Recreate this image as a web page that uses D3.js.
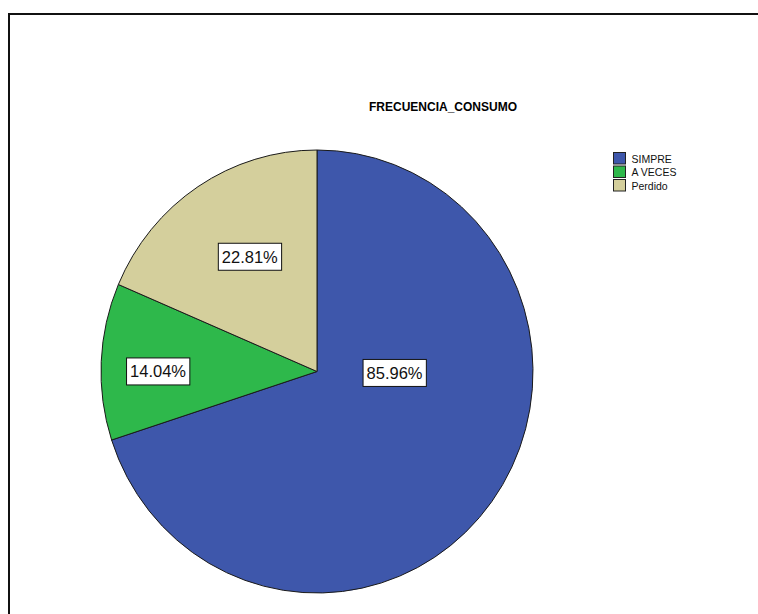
<!DOCTYPE html>
<html>
<head>
<meta charset="utf-8">
<script src="https://cdn.jsdelivr.net/npm/d3@7"></script>
<style>
  html, body { margin: 0; padding: 0; background: #fff; }
  svg { display: block; }
</style>
</head>
<body>
<svg id="chart" width="758" height="614"></svg>
<script>
// Frequency of consumption, percentage per answer
const categories = ["SIMPRE", "A VECES", "Perdido"];
const percentages = [85.96, 14.04, 22.81];
const title = "FRECUENCIA_CONSUMO";
const colors = ["#3e57ab", "#2eb84b", "#d4cf9c"];

const svg = d3.select("#chart");
const W = 758, H = 614;
const FONT = "Liberation Sans, Arial, sans-serif";

// outer frame (top and left edges visible)
svg.append("path")
  .attr("d", `M9,${H} L9,14 L${W},14`)
  .attr("fill", "none")
  .attr("stroke", "#111")
  .attr("stroke-width", 2);

svg.append("text")
  .attr("x", 443).attr("y", 111)
  .attr("text-anchor", "middle")
  .attr("font-family", FONT)
  .attr("font-weight", "bold")
  .attr("font-size", 12)
  .text(title);

// pie is drawn slightly narrower than tall
const cx = 317, cy = 371.5, r = 221.5, sx = 216 / 221.5;
const g = svg.append("g").attr("transform", `translate(${cx},${cy})`);
const slices = g.append("g").attr("transform", `scale(${sx},1)`);

const data = categories.map((c, i) => ({ cat: c, value: percentages[i], color: colors[i] }));
const pie = d3.pie().sort(null).value(d => d.value);
const arcs = pie(data);
const arc = d3.arc().innerRadius(0).outerRadius(r);

slices.selectAll("path.slice")
  .data(arcs)
  .join("path")
  .attr("class", "slice")
  .attr("d", arc)
  .attr("fill", d => d.data.color)
  .attr("stroke", "#1a1a1a")
  .attr("stroke-width", 1)
  .attr("vector-effect", "non-scaling-stroke");

// label anchors: fraction of the radius and direction (degrees clockwise from top)
const labelLayout = [
  { frac: 0.359, deg: 90 },
  { frac: 0.736, deg: 270 },
  { frac: 0.604, deg: 329 }
];

const fmt = v => v.toFixed(2) + "%";
arcs.forEach((a, i) => {
  const L = labelLayout[i];
  const ang = L.deg * Math.PI / 180;
  const x = Math.sin(ang) * r * sx * L.frac;
  const y = -Math.cos(ang) * r * L.frac + (i === 0 ? 1.5 : 0);
  const lg = g.append("g").attr("transform", `translate(${x},${y})`);
  const t = lg.append("text")
    .attr("text-anchor", "middle")
    .attr("dy", "0.36em")
    .attr("font-family", FONT)
    .attr("font-size", 16.5)
    .attr("fill", "#111")
    .text(fmt(a.data.value));
  const bb = t.node().getBBox();
  lg.insert("rect", "text")
    .attr("x", bb.x - 3.5).attr("y", bb.y - 4.5)
    .attr("width", bb.width + 7).attr("height", bb.height + 9)
    .attr("fill", "#fff")
    .attr("stroke", "#111")
    .attr("stroke-width", 1);
});

// legend
const legend = svg.append("g").attr("transform", "translate(613.5,152.5)");
const item = legend.selectAll("g")
  .data(data)
  .join("g")
  .attr("transform", (d, i) => `translate(0,${i * 13.5})`);
item.append("rect")
  .attr("width", 12).attr("height", 11.5)
  .attr("fill", d => d.color)
  .attr("stroke", "#222")
  .attr("stroke-width", 1);
item.append("text")
  .attr("x", 18).attr("y", 10)
  .attr("font-family", FONT)
  .attr("font-size", 10.5)
  .attr("fill", "#111")
  .text(d => d.cat);
</script>
</body>
</html>
